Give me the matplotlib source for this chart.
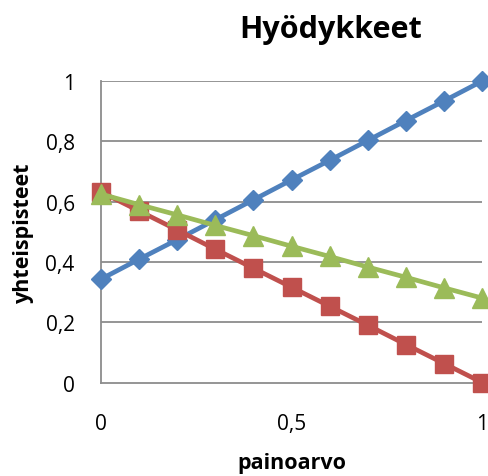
import numpy as np
from matplotlib import pyplot as plt

# painoarvo (weight) on x, total score for each option on y
painoarvo = [0, 0.1, 0.2, 0.3, 0.4, 0.5, 0.6, 0.7, 0.8, 0.9, 1.0]
sarja_sininen = [0.343, 0.409, 0.474, 0.540, 0.606, 0.672, 0.737, 0.803, 0.869, 0.934, 1.0]
sarja_punainen = [0.632, 0.569, 0.506, 0.442, 0.379, 0.316, 0.253, 0.190, 0.126, 0.063, 0.0]
sarja_vihrea = [0.625, 0.590, 0.556, 0.521, 0.487, 0.452, 0.418, 0.383, 0.349, 0.314, 0.280]

y_ticks = [0, 0.2, 0.4, 0.6, 0.8, 1.0]
y_labels = ["0", "0,2", "0,4", "0,6", "0,8", "1"]
x_ticks = [0, 0.5, 1.0]
x_labels = ["0", "0,5", "1"]

plt.rcParams['font.family'] = ['Open Sans', 'DejaVu Sans']

fig = plt.figure(figsize=(4.88, 4.77), dpi=100)
ax = fig.add_axes([0.207, 0.196, 0.781, 0.632])

grid_col = "#8c8c8c"
for y in y_ticks[1:]:
    ax.axhline(y, color=grid_col, lw=1.3, zorder=1)

ax.plot(painoarvo, sarja_sininen, color="#4F81BD", lw=3.4, marker="D",
        markersize=10, clip_on=False, zorder=3)
ax.plot(painoarvo, sarja_punainen, color="#C0504D", lw=3.4, marker="s",
        markersize=13, clip_on=False, zorder=3)
ax.plot(painoarvo, sarja_vihrea, color="#9BBB59", lw=3.4, marker="^",
        markersize=14, clip_on=False, zorder=4)

ax.set_xlim(0, 1)
ax.set_ylim(0, 1)
ax.set_yticks(y_ticks)
ax.set_yticklabels(y_labels)
ax.set_xticks(x_ticks)
ax.set_xticklabels(x_labels)
ax.tick_params(length=0, labelsize=15)
ax.tick_params(axis="y", pad=19)
ax.tick_params(axis="x", pad=22)

for s in ["top", "right"]:
    ax.spines[s].set_visible(False)
for s in ["left", "bottom"]:
    ax.spines[s].set_color(grid_col)
    ax.spines[s].set_linewidth(1.3)

fig.text(0.678, 0.937, "Hyödykkeet", ha="center", va="center",
         fontsize=22, fontweight="bold")
ax.set_xlabel("painoarvo", fontsize=15.5, fontweight="bold", labelpad=13)
ax.set_ylabel("yhteispisteet", fontsize=15.5, fontweight="bold", labelpad=8)

plt.savefig("out.png", dpi=100)
